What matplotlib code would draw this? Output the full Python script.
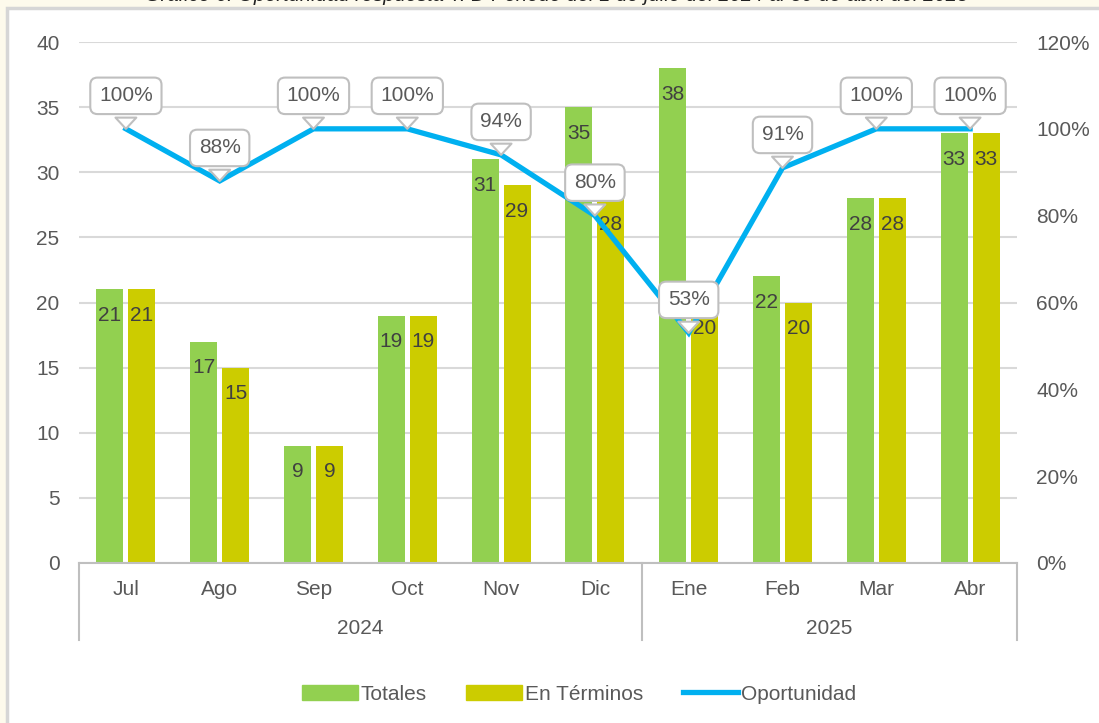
import matplotlib
matplotlib.use('Agg')
import matplotlib.pyplot as plt
import matplotlib.transforms as mtransforms
from matplotlib.patches import Rectangle
import numpy as np

plt.rcParams['font.family'] = ['Liberation Sans', 'DejaVu Sans']

meses = ['Jul', 'Ago', 'Sep', 'Oct', 'Nov', 'Dic', 'Ene', 'Feb', 'Mar', 'Abr']
anios = ['2024', '2025']
meses_por_anio = [6, 4]
totales = [21, 17, 9, 19, 31, 35, 38, 22, 28, 33]
en_terminos = [21, 15, 9, 19, 29, 28, 20, 20, 28, 33]
oportunidad = [1.00, 0.88, 1.00, 1.00, 0.94, 0.80, 0.53, 0.91, 1.00, 1.00]

verde = '#92D050'
amarillo = '#CCCC00'
azul = '#00B0F0'
gris_txt = '#595959'
gris_linea = '#D9D9D9'
fs = 15

W, H = 1099, 723
fig = plt.figure(figsize=(10.99, 7.23), dpi=100)
fig.patch.set_facecolor('#FDFAEC')
fig.patches.append(Rectangle((7 / W, -0.1), 1.2, 1.1 - 8 / H, transform=fig.transFigure,
                             facecolor='white', edgecolor='#D6D6D6', linewidth=2.5, zorder=-5))
# title is cut off at the top edge in the source image
fig.text(557 / W, 1 + 4.5 / H, 'Gráfico 6. Oportunidad respuesta T. D Periodo del 1 de julio del 2024 al 30 de abril del 2025',
         ha='center', va='center', fontsize=14.5, style='italic', color='#222222')

ax = fig.add_axes([79 / W, (H - 563) / H, (1017 - 79) / W, (563 - 42) / H])
ax.set_facecolor('none')
ax2 = ax.twinx()

x = np.arange(len(meses))
w = 0.288
b1 = ax.bar(x - 0.17, totales, w, color=verde, zorder=2)
b2 = ax.bar(x + 0.17, en_terminos, w, color=amarillo, zorder=2)

for bars in (b1, b2):
    for r in bars:
        ax.annotate(f'{int(r.get_height())}', (r.get_x() + r.get_width() / 2, r.get_height()),
                    xytext=(0, -26), textcoords='offset pixels', ha='center', va='center',
                    fontsize=fs, color='#404040', zorder=3)

ax.set_xlim(-0.5, len(meses) - 0.5)
ax.set_ylim(0, 40)
ax.set_yticks(range(0, 41, 5))
ax.yaxis.grid(True, color=gris_linea, linewidth=1.5)
ax.set_axisbelow(True)
ax.tick_params(axis='y', length=0, pad=14, labelsize=fs, labelcolor=gris_txt)
ax.set_xticks(x)
ax.set_xticklabels(meses)
ax.tick_params(axis='x', length=0, pad=12, labelsize=fs, labelcolor=gris_txt)
for s in ['top', 'left', 'right']:
    ax.spines[s].set_visible(False)
ax.spines['bottom'].set_color('#BFBFBF')
ax.spines['bottom'].set_linewidth(1.5)

# second level of category axis (years)
trans = mtransforms.blended_transform_factory(ax.transData, ax.transAxes)
bordes = [-0.5]
for n in meses_por_anio:
    bordes.append(bordes[-1] + n)
for xb in bordes:
    ax.plot([xb, xb], [0, -0.148], transform=trans, color='#BFBFBF', lw=1.5, clip_on=False)
for i, a in enumerate(anios):
    ax.text((bordes[i] + bordes[i + 1]) / 2, -0.125, a, transform=trans, ha='center', va='center',
            fontsize=fs, color=gris_txt)

ax2.plot(x, oportunidad, color=azul, lw=3.8, solid_joinstyle='miter', zorder=4)
ax2.set_ylim(0, 1.2)
ax2.set_yticks(np.arange(0, 1.21, 0.2))
ax2.set_yticklabels([f'{int(round(v * 100))}%' for v in np.arange(0, 1.21, 0.2)])
ax2.tick_params(axis='y', length=0, pad=14, labelsize=fs, labelcolor=gris_txt)
for s in ax2.spines.values():
    s.set_visible(False)

for xi, v in zip(x, oportunidad):
    ax2.annotate(f'{int(round(v * 100))}%', (xi, v), xytext=(0, 33), textcoords='offset pixels',
                 ha='center', va='center', fontsize=fs, color=gris_txt, zorder=6,
                 bbox=dict(boxstyle='round,pad=0.42,rounding_size=0.35', fc='white', ec='#BFBFBF', lw=1.5),
                 arrowprops=dict(arrowstyle='wedge,tail_width=1.0,shrink_factor=0.5', fc='white',
                                 ec='#BFBFBF', lw=1.5, shrinkA=-2, shrinkB=0))

handles = [Rectangle((0, 0), 1, 1, color=verde), Rectangle((0, 0), 1, 1, color=amarillo),
           plt.Line2D([0], [0], color=azul, lw=3.8)]
fig.legend(handles, ['Totales', 'En Términos', 'Oportunidad'], loc='center', bbox_to_anchor=(0.527, 0.04),
           ncol=3, frameon=False, fontsize=fs, handlelength=2.65, handleheight=0.7, handletextpad=0.15,
           columnspacing=1.9, labelcolor=gris_txt)

fig.savefig('out.png', dpi=100, facecolor=fig.get_facecolor())
